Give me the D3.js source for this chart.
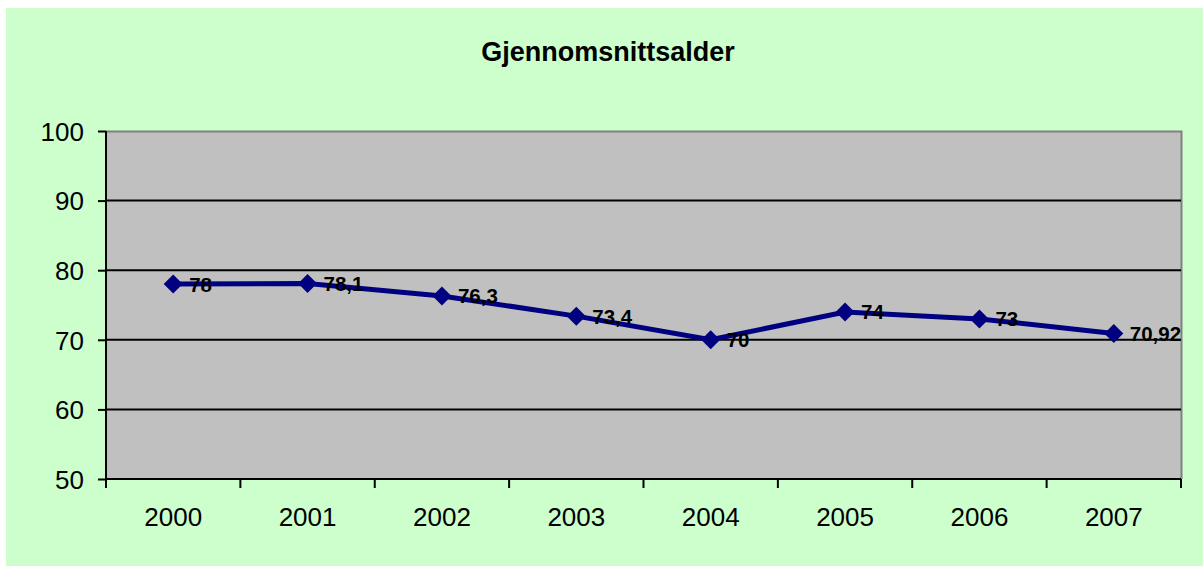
<!DOCTYPE html>
<html><head><meta charset="utf-8">
<script src="https://cdn.jsdelivr.net/npm/d3@7"></script>
<style>body{margin:0;background:#fff}svg{display:block}</style>
</head><body>
<svg id="c" width="1203" height="567"></svg>
<script>
const categories = ["2000","2001","2002","2003","2004","2005","2006","2007"];
const values = [78, 78.1, 76.3, 73.4, 70, 74, 73, 70.92];
const labels = ["78","78,1","76,3","73,4","70","74","73","70,92"];
const yTicks = [50,60,70,80,90,100];
const title = "Gjennomsnittsalder";

const svg = d3.select("#c");
const font = "Liberation Sans, Arial, sans-serif";
svg.append("rect").attr("x",6).attr("y",8).attr("width",1197).attr("height",558).attr("fill","#CCFFCC");

const L=106,R=1181,T=131,B=479;
const x = d3.scaleBand().domain(categories).range([L,R]);
const y = d3.scaleLinear().domain([50,100]).range([B,T]);

svg.append("rect").attr("x",L).attr("y",T).attr("width",R-L).attr("height",B-T).attr("fill","#C0C0C0");
svg.append("path").attr("d",`M${L},${T+0.5}H${R+0.5}V${B}`).attr("fill","none").attr("stroke","#808080").attr("stroke-width",2);

svg.append("g").selectAll("line").data(yTicks.filter(d=>d>50&&d<100)).join("line")
  .attr("x1",L).attr("x2",R).attr("y1",d=>y(d)).attr("y2",d=>y(d))
  .attr("stroke","#000").attr("stroke-width",2);

const ya = svg.append("g").attr("transform",`translate(${L},0)`)
  .call(d3.axisLeft(y).tickValues(yTicks).tickSize(8).tickPadding(14));
ya.select(".domain").attr("stroke","#000").attr("stroke-width",2).attr("d",`M0,${T}V${B}`);
ya.selectAll(".tick line").attr("stroke","#000").attr("stroke-width",2);
ya.selectAll("text").attr("font-family",font).attr("font-size",26).attr("fill","#000").attr("dy","0.36em");

const xa = svg.append("g").attr("transform",`translate(0,${B})`)
  .call(d3.axisBottom(x).tickSize(0).tickPadding(29));
xa.select(".domain").attr("stroke","#000").attr("stroke-width",2).attr("d",`M${L},0H${R}`);
xa.selectAll("text").attr("font-family",font).attr("font-size",26).attr("fill","#000");
const bounds = categories.map(c=>x(c)).concat([R]);
xa.selectAll(".bt").data(bounds).join("line").attr("class","bt")
  .attr("x1",d=>d).attr("x2",d=>d).attr("y1",0).attr("y2",9).attr("stroke","#000").attr("stroke-width",2);

const cx = (d,i)=>x(categories[i])+x.bandwidth()/2;
const line = d3.line().x((d,i)=>cx(d,i)).y(d=>y(d));
svg.append("path").datum(values).attr("d",line).attr("fill","none").attr("stroke","#000080").attr("stroke-width",5);

svg.append("g").selectAll("path").data(values).join("path")
  .attr("d",d3.symbol().type(d3.symbolDiamond2).size(230))
  .attr("transform",(d,i)=>`translate(${cx(d,i)},${y(d)})`)
  .attr("fill","#000080");

svg.append("g").selectAll("text").data(values).join("text")
  .attr("x",(d,i)=>cx(d,i)+16).attr("y",d=>y(d)).attr("dy","0.36em")
  .attr("font-family",font).attr("font-weight","bold").attr("font-size",20.5).attr("fill","#000")
  .text((d,i)=>labels[i]);

svg.append("text").attr("x",608).attr("y",52).attr("dy","0.35em").attr("text-anchor","middle")
  .attr("font-family",font).attr("font-weight","bold").attr("font-size",27).text(title);
</script>
</body></html>
